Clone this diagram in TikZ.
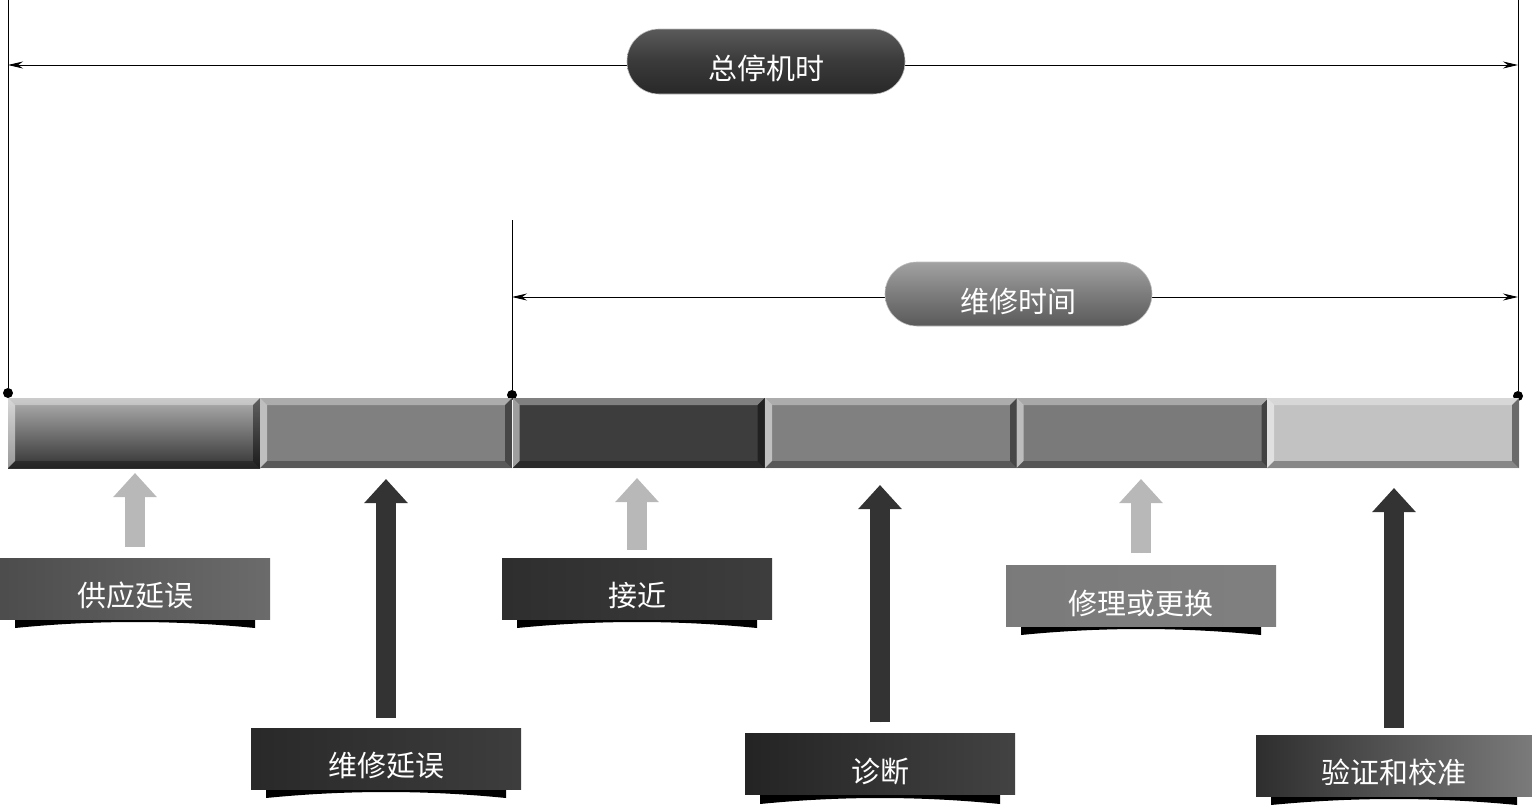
\documentclass[tikz,border=0pt]{standalone}
\usepackage{fontspec}
\newfontfamily\cjk{Noto Sans CJK SC}
\usetikzlibrary{arrows.meta}
\definecolor{pillA}{HTML}{5A5A5A}
\definecolor{pillAm}{HTML}{3A3A3A}
\definecolor{pillAb}{HTML}{282828}
\definecolor{pillB}{HTML}{A2A2A2}
\definecolor{pillBm}{HTML}{7C7C7C}
\definecolor{pillBb}{HTML}{5A5A5A}
\definecolor{lightarrow}{HTML}{B8B8B8}
\definecolor{darkarrow}{HTML}{333333}
\begin{document}
\begin{tikzpicture}[x=1pt,y=-1pt,
  vline/.style={black,line width=0.9pt},
  dot/.style={circle,fill=black,inner sep=0pt,minimum size=10pt},
  span/.style={line width=0.9pt,{Stealth[length=15pt,width=7pt]}-{Stealth[length=15pt,width=7pt]}},
  pill/.style={rounded corners=32pt,inner sep=0pt,text=white,font=\cjk\fontsize{29}{34}\selectfont,text height=36pt,text depth=0pt,draw=gray!50,line width=0.6pt},
  seg/.style={minimum width=252pt,minimum height=70pt,inner sep=0pt,outer sep=0pt,
    path picture={
      \fill[white,opacity=0.35] (path picture bounding box.north west) -- (path picture bounding box.north east)
        -- ([shift={(-7pt,-7pt)}]path picture bounding box.north east) -- ([shift={(7pt,-7pt)}]path picture bounding box.north west) -- cycle;
      \fill[white,opacity=0.5] (path picture bounding box.north west) -- (path picture bounding box.south west)
        -- ([shift={(7pt,7pt)}]path picture bounding box.south west) -- ([shift={(7pt,-7pt)}]path picture bounding box.north west) -- cycle;
      \fill[black,opacity=0.3] (path picture bounding box.south west) -- (path picture bounding box.south east)
        -- ([shift={(-7pt,7pt)}]path picture bounding box.south east) -- ([shift={(7pt,7pt)}]path picture bounding box.south west) -- cycle;
      \fill[black,opacity=0.45] (path picture bounding box.north east) -- (path picture bounding box.south east)
        -- ([shift={(-7pt,7pt)}]path picture bounding box.south east) -- ([shift={(-7pt,-7pt)}]path picture bounding box.north east) -- cycle;
    }},
  lab/.style={minimum width=270pt,minimum height=61pt,inner sep=0pt,text=white,font=\cjk\fontsize{29}{34}\selectfont,text height=36pt,text depth=0pt},
  blockarrow/.style={line width=20pt,-{Triangle[length=24pt,width=42pt]}},
  lightA/.style={blockarrow,draw=lightarrow,fill=lightarrow},
  darkA/.style={blockarrow,draw=darkarrow,fill=darkarrow}
]
\useasboundingbox (0,0) rectangle (1532,806);

% vertical reference lines and dots
\coordinate (T0) at (8,0);
\coordinate (T2) at (512,220);
\coordinate (T1) at (1518,0);
\node[dot] (D0) at (8,393) {};
\node[dot] (D2) at (512,395) {};
\node[dot] (D1) at (1518,396) {};
\draw[vline] (T0) -- (D0);
\draw[vline] (T2) -- (D2);
\draw[vline] (T1) -- (D1);

% span arrows
\coordinate (A0) at (8,65);
\coordinate (A1) at (1518,65);
\coordinate (B0) at (512,297);
\coordinate (B1) at (1518,297);
\draw[span] (A0) -- (A1);
\draw[span] (B0) -- (B1);

\node[pill,minimum width=278pt,minimum height=65pt,top color=pillA,bottom color=pillAb,middle color=pillAm] (P1) at (766,61.5) {总停机时};
\node[pill,minimum width=267pt,minimum height=64pt,top color=pillB,bottom color=pillBb,middle color=pillBm] (P2) at (1018.5,294) {维修时间};

% bar segments
\node[seg,top color=gray!62,bottom color=black!80] (s1) at (134,433) {};
\node[seg,fill=black!50] (s2) at (386,433) {};
\node[seg,fill=black!76] (s3) at (638.5,433) {};
\node[seg,fill=black!50] (s4) at (891,433) {};
\node[seg,fill=black!52] (s5) at (1142.5,433) {};
\node[seg,fill=black!24] (s6) at (1393,433) {};

% label shadows
\foreach \x/\y/\w in {0/619/270, 251/789/270, 502/619/270, 745/795/270, 1006/626/270, 1256/796/276}{
  \fill[black] (\x+15,\y) -- (\x+15,\y+9) .. controls (\x+15+\w*0.3,\y+1) and (\x+\w-15-\w*0.3,\y+1) .. (\x+\w-15,\y+9) -- (\x+\w-15,\y) -- cycle;
}

% labels
\node[lab,left color=black!70,right color=black!58] (l1) at (135,588.5) {供应延误};
\node[lab,left color=black!84,right color=black!76] (l2) at (386,758.5) {维修延误};
\node[lab,left color=black!82,right color=black!76] (l3) at (637,588.5) {接近};
\node[lab,left color=black!86,right color=black!74] (l4) at (880,764) {诊断};
\node[lab,left color=black!52,right color=black!50] (l5) at (1141,596) {修理或更换};
\node[lab,minimum width=276pt,left color=black!82,right color=black!52] (l6) at (1394,765.5) {验证和校准};

% block arrows
\draw[lightA,shorten <=11pt,shorten >=5pt] (l1.north) -- (l1.north |- s1.south);
\draw[darkA,shorten <=10pt,shorten >=11pt] (l2.north) -- (l2.north |- s2.south);
\draw[lightA,shorten <=8pt,shorten >=10pt] (l3.north) -- (l3.north |- s3.south);
\draw[darkA,shorten <=11pt,shorten >=17pt] (l4.north) -- (l4.north |- s4.south);
\draw[lightA,shorten <=12pt,shorten >=11pt] (l5.north) -- (l5.north |- s5.south);
\draw[darkA,shorten <=7pt,shorten >=20pt] (l6.north) -- (l6.north |- s6.south);
\end{tikzpicture}
\end{document}
